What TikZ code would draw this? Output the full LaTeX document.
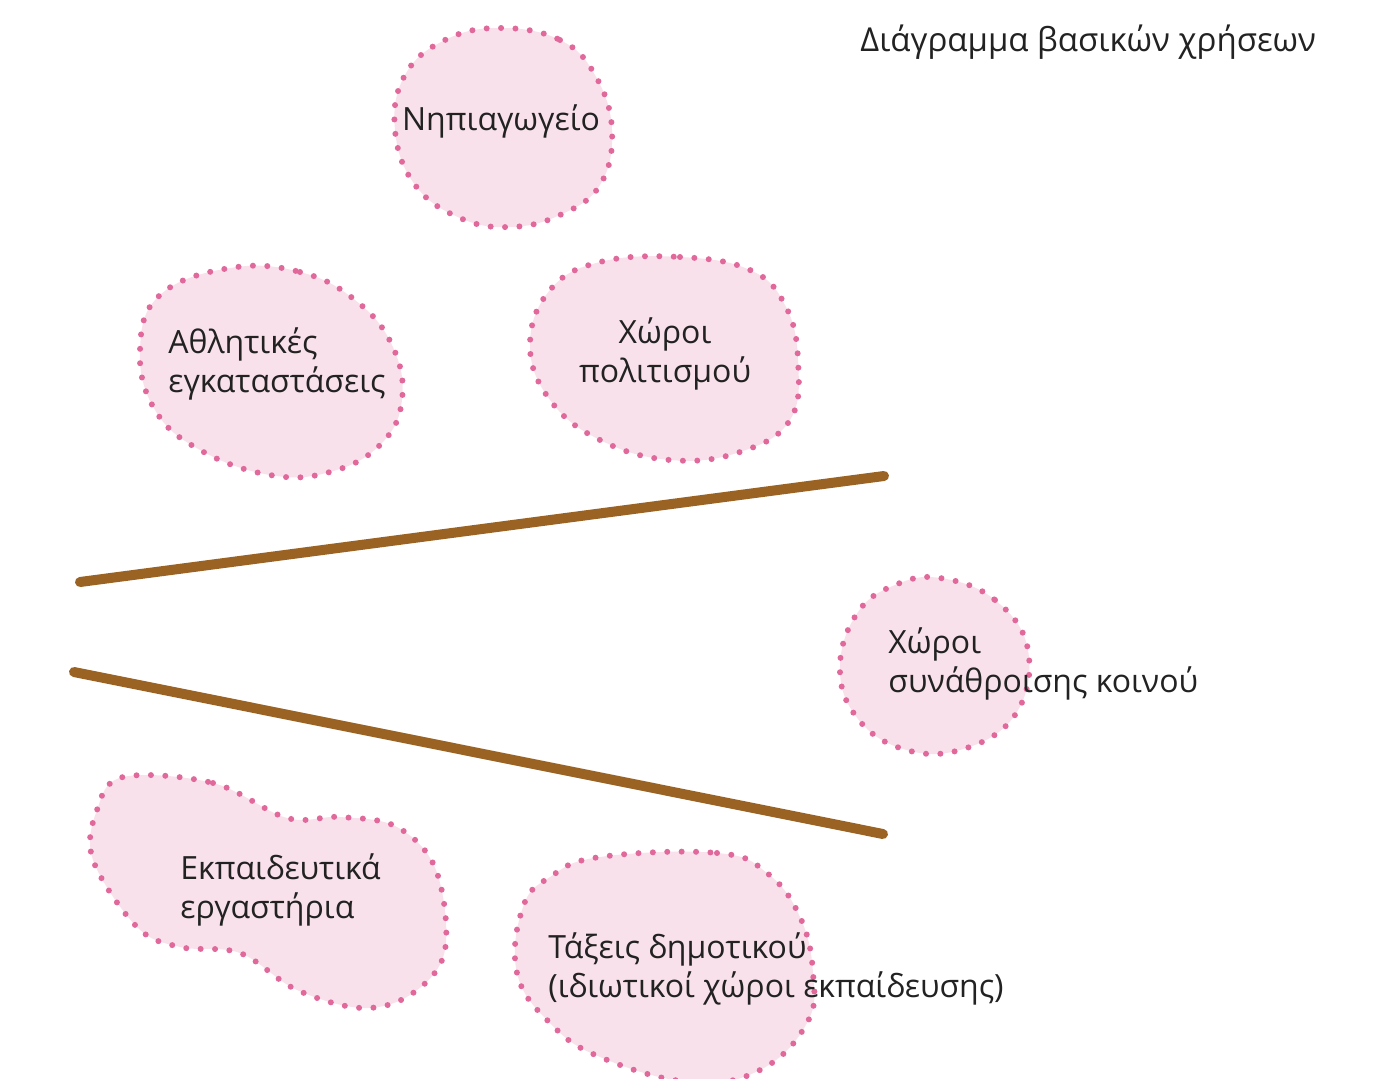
\documentclass[tikz,border=0pt]{standalone}
\usepackage{fontspec}
\setmainfont{Open Sans}
\definecolor{blobfill}{HTML}{F9E1EB}
\definecolor{blobdot}{HTML}{E0689A}
\definecolor{brownline}{HTML}{9A6324}
\definecolor{txt}{HTML}{222222}
\begin{document}
\begin{tikzpicture}[x=0.5pt,y=-0.5pt,
  blob/.style={fill=blobfill,draw=blobdot,line width=3pt,line cap=round,dash pattern=on 0pt off 7.2pt},
  label/.style={text=txt,font=\fontsize{16}{19.5}\selectfont,inner sep=0pt},
  bar/.style={draw=brownline,line width=5pt,line cap=round}]
\useasboundingbox (0,0) rectangle (1384,1079);
% blobs
\draw[blob] plot[smooth cycle,tension=0.7] coordinates {(500,28) (560,40) (595,75) (612,130) (600,185) (560,215) (510,227) (460,218) (415,185) (395,130) (405,75) (445,40)};
\draw[blob] plot[smooth cycle,tension=0.7] coordinates {(230,268) (300,272) (355,300) (392,345) (402,400) (380,445) (330,472) (270,475) (200,450) (155,410) (140,350) (160,295)};
\draw[blob] plot[smooth cycle,tension=0.7] coordinates {(600,262) (680,257) (750,270) (785,305) (798,360) (790,420) (740,452) (670,460) (600,440) (550,400) (530,345) (550,290)};
\draw[blob] plot[smooth cycle,tension=0.7] coordinates {(940,578) (995,600) (1028,650) (1015,715) (960,750) (900,748) (855,715) (840,665) (858,612) (895,585)};
\draw[blob] plot[smooth cycle,tension=0.6] coordinates {(123,777) (213,783) (287,818) (340,817) (397,827) (436,870) (445,950) (413,993) (363,1008) (297,990) (240,953) (180,947) (137,927) (93,860) (97,810)};
\draw[blob] plot[smooth cycle,tension=0.7] coordinates {(600,857) (717,853) (767,873) (800,917) (813,973) (807,1023) (760,1070) (690,1082) (600,1057) (550,1023) (517,973) (523,907) (550,877)};
% bars
\coordinate (b1s) at (80,582);
\coordinate (b1e) at (884,476);
\coordinate (b2s) at (74,672);
\coordinate (b2e) at (883,834);
\draw[bar] (b1s) -- (b1e);
\draw[bar] (b2s) -- (b2e);
% texts
\node[label,anchor=west,font=\fontsize{16.5}{19.5}\selectfont] (title) at (860,42) {Διάγραμμα βασικών χρήσεων};
\node[label] (nip) at (501,121) {Νηπιαγωγείο};
\node[label,anchor=west,align=left] (athl) at (168,364) {Αθλητικές\\εγκαταστάσεις};
\node[label,align=center] (pol) at (665,354) {Χώροι\\πολιτισμού};
\node[label,anchor=west,align=left] (syn) at (888,664) {Χώροι\\συνάθροισης κοινού};
\node[label,anchor=west,align=left] (ekp) at (180,890) {Εκπαιδευτικά\\εργαστήρια};
\node[label,anchor=west,align=left] (tax) at (548,969) {Τάξεις δημοτικού\\(ιδιωτικοί χώροι εκπαίδευσης)};
\end{tikzpicture}
\end{document}
